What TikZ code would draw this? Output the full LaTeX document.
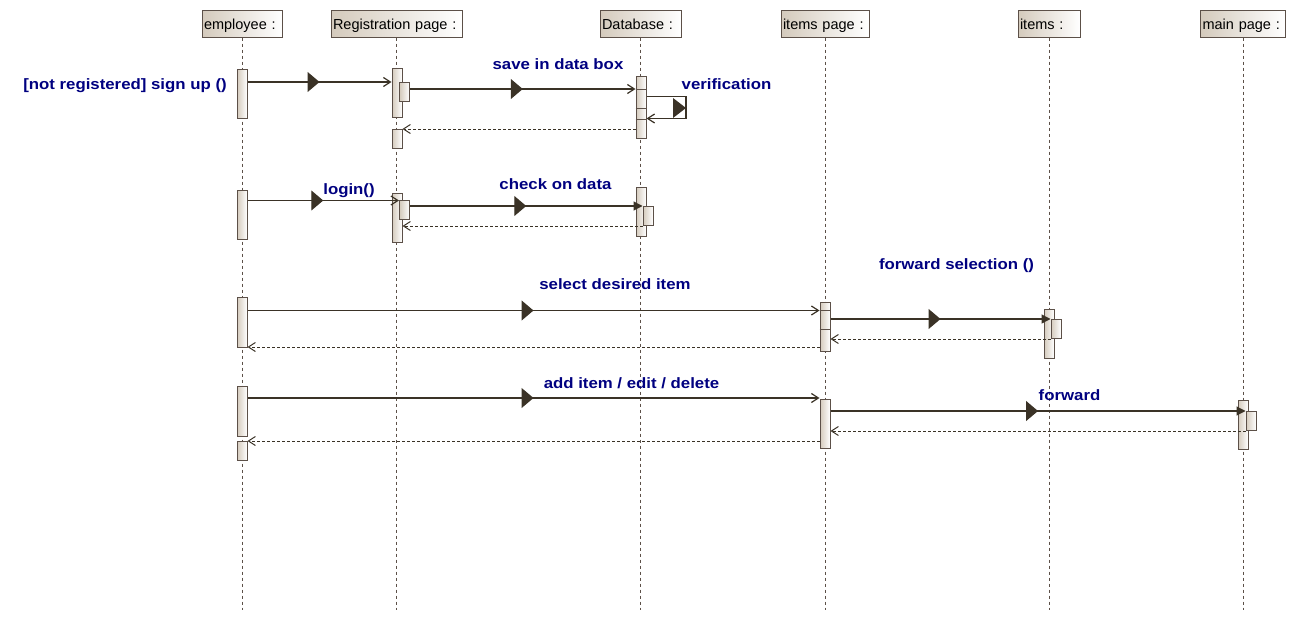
\documentclass[tikz,border=0pt]{standalone}
\usepackage{fontspec}
\setmainfont{Liberation Sans}
\newfontfamily\lblfont[FakeStretch=1.12]{Liberation Sans}
\usetikzlibrary{arrows.meta,decorations.markings}
\definecolor{boxedge}{RGB}{92,80,72}
\definecolor{boxtan}{RGB}{212,202,188}
\definecolor{msgline}{RGB}{58,50,38}
\definecolor{lblblue}{RGB}{0,0,128}
\tikzset{
  head/.style={draw=boxedge, line width=1pt, left color=boxtan, right color=white,
    inner xsep=2pt, inner ysep=0pt, minimum height=27pt, align=left,
    text height=14.6pt, text depth=3pt,
    font=\fontsize{14.5}{17}\selectfont},
  bar/.style={draw=boxedge, line width=1pt, left color=boxtan, right color=white,
    minimum width=10pt, inner sep=0pt},
  life/.style={draw=boxedge, line width=0.9pt, dash pattern=on 3pt off 3pt},
  call/.style={draw=msgline, line width=1.2pt, -{Straight Barb[length=7pt,width=9pt]}},
  callf/.style={draw=msgline, line width=1.2pt, -{Triangle[length=9pt,width=9pt]}},
  reply/.style={draw=msgline, line width=1pt, dash pattern=on 3pt off 2pt,
    -{Straight Barb[length=7pt,width=9pt]}},
  midtri/.style={postaction={decorate, decoration={markings,
      mark=at position 0.5 with {\arrow[msgline]{Triangle[length=12pt,width=20pt]}}}}},
  lbl/.style={text=lblblue, anchor=base, inner sep=0pt,
    font=\lblfont\bfseries\fontsize{15}{18}\selectfont},
}
\begin{document}
\begin{tikzpicture}[x=1pt, y=-1pt]
  \useasboundingbox (0,0) rectangle (1296,621);
  % lifeline heads
  \node[head, text width=76pt] (emp) at (242,23.5) {employee :};
  \node[head, text width=127pt] (reg) at (396.5,23.5) {Registration page :};
  \node[head, text width=77pt] (db) at (640.5,23.5) {Database :};
  \node[head, text width=84pt] (ipg) at (825,23.5) {items page :};
  \node[head, text width=58pt] (itm) at (1049,23.5) {items :};
  \node[head, text width=81pt] (mpg) at (1243,23.5) {main page :};
  \coordinate (bottom) at (0,610);
  \draw[life] (emp.south) -- (emp.south |- bottom);
  \draw[life] (reg.south) -- (reg.south |- bottom);
  \draw[life] (db.south) -- (db.south |- bottom);
  \draw[life] (ipg.south) -- (ipg.south |- bottom);
  \draw[life] (itm.south) -- (itm.south |- bottom);
  \draw[life] (mpg.south) -- (mpg.south |- bottom);

  % activations
  \node[bar, minimum height=49pt] (e1) at (242,93.5) {};
  \node[bar, minimum height=49pt] (e2) at (242,214.5) {};
  \node[bar, minimum height=50pt] (e3) at (242,322) {};
  \node[bar, minimum height=50pt] (e4) at (242,411) {};
  \node[bar, minimum height=19pt] (e5) at (242,450.5) {};
  \node[bar, minimum height=49pt] (r1) at (397,92.5) {};
  \node[bar, minimum height=19pt] (r1n) at (404.5,91.5) {};
  \node[bar, minimum height=19pt] (r2) at (397,138.5) {};
  \node[bar, minimum height=49pt] (r3) at (397,217.5) {};
  \node[bar, minimum height=19pt] (r3n) at (404.5,209.5) {};
  \node[bar, minimum height=62pt] (d1) at (641,107) {};
  \node[bar, minimum height=49pt] (d2) at (641,211.5) {};
  \node[bar, minimum height=19pt] (d2n) at (648,215.5) {};
  \node[bar, minimum height=49pt] (i1) at (825,326.5) {};
  \node[bar, minimum height=49pt] (i2) at (825,423.5) {};
  \node[bar, minimum height=49pt] (t1) at (1049,333.5) {};
  \node[bar, minimum height=19pt] (t1n) at (1056,328.5) {};
  \node[bar, minimum height=49pt] (m1) at (1243,424.5) {};
  \node[bar, minimum height=19pt] (m1n) at (1251,420.5) {};

  % message levels
  \coordinate (ysign) at (0,82);
  \coordinate (ysave) at (0,89);
  \coordinate (ymid) at (0,108);
  \coordinate (ylow) at (0,119);
  \coordinate (vtop) at (686,96.5);
  \coordinate (vbot) at (686,118.5);
  \coordinate (yret1) at (0,129);
  \coordinate (ylogin) at (0,200.5);
  \coordinate (ycheck) at (0,206);
  \coordinate (yret2) at (0,226);
  \coordinate (ysel) at (0,310.5);
  \coordinate (ydiv) at (0,329);
  \coordinate (yfsel) at (0,319);
  \coordinate (yret4) at (0,339);
  \coordinate (yret3) at (0,347);
  \coordinate (yadd) at (0,398);
  \coordinate (yfwd) at (0,411);
  \coordinate (yret5) at (0,431);
  \coordinate (yret6) at (0,441);

  % bar dividers
  \draw[boxedge, line width=1pt] (d1.west |- ysave) -- (d1.east |- ysave);
  \draw[boxedge, line width=1pt] (d1.west |- ymid) -- (d1.east |- ymid);
  \draw[boxedge, line width=1pt] (d1.west |- ylow) -- (d1.east |- ylow);
  \draw[boxedge, line width=1pt] (i1.west |- ysel) -- (i1.east |- ysel);
  \draw[boxedge, line width=1pt] (i1.west |- ydiv) -- (i1.east |- ydiv);

  % messages
  \draw[call, midtri] (e1.east |- ysign) -- (r1.west |- ysign);
  \draw[call, midtri] (r1n.east |- ysave) -- (d1.west |- ysave);
  \draw[call] (d1.east |- vtop) -- (vtop) -- (vbot) -- (d1.east |- vbot);
  \fill[msgline] (673,98) -- (686,108) -- (673,118) -- cycle;
  \draw[reply] (d1.west |- yret1) -- (r2.east |- yret1);
  \draw[call, midtri] (e2.east |- ylogin) -- (r3n.west |- ylogin);
  \draw[callf, midtri] (r3n.east |- ycheck) -- (d2n.west |- ycheck);
  \draw[reply] (d2n.west |- yret2) -- (r3.east |- yret2);
  \draw[call, midtri] (e3.east |- ysel) -- (i1.west |- ysel);
  \draw[callf, midtri] (i1.east |- yfsel) -- (t1n.west |- yfsel);
  \draw[reply] (t1n.west |- yret4) -- (i1.east |- yret4);
  \draw[reply] (i1.west |- yret3) -- (e3.east |- yret3);
  \draw[call, midtri] (e4.east |- yadd) -- (i2.west |- yadd);
  \draw[callf, midtri] (i2.east |- yfwd) -- (m1n.west |- yfwd);
  \draw[reply] (m1n.west |- yret5) -- (i2.east |- yret5);
  \draw[reply] (i2.west |- yret6) -- (e5.east |- yret6);

  % labels
  \node[lbl] (lsign) at (125,89) {[not registered] sign up ()};
  \node[lbl] (lsave) at (558,69) {save in data box};
  \node[lbl] (lver) at (726.5,89) {verification};
  \node[lbl] (llogin) at (349,194) {login()};
  \node[lbl] (lcheck) at (555.5,189) {check on data};
  \node[lbl] (lsel) at (615,289) {select desired item};
  \node[lbl] (lfsel) at (956.5,269) {forward selection ()};
  \node[lbl] (ladd) at (631.5,388) {add item / edit / delete};
  \node[lbl] (lfwd) at (1069.5,400) {forward};
\end{tikzpicture}
\end{document}
